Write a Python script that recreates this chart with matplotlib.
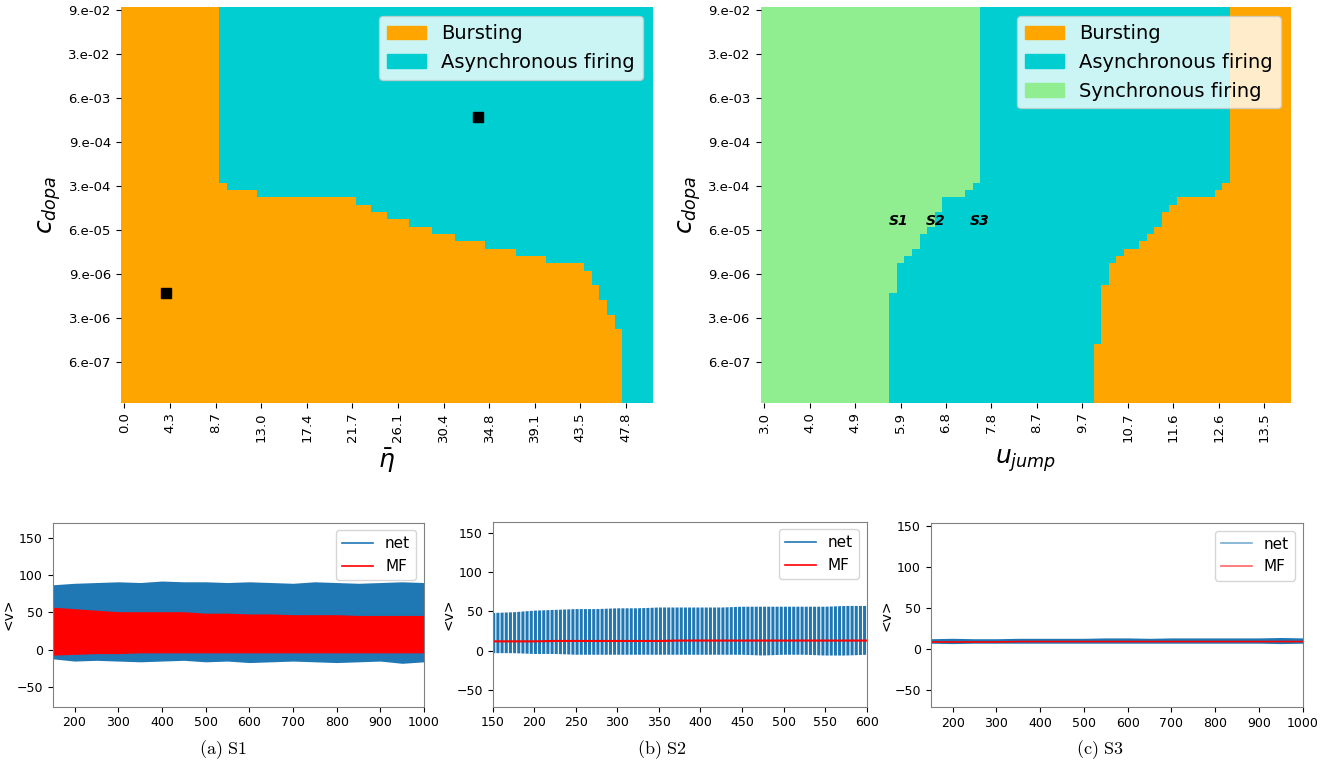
import numpy as np
import matplotlib
matplotlib.use("Agg")
import matplotlib.pyplot as plt
from matplotlib.colors import ListedColormap
from matplotlib.patches import Patch
from matplotlib.lines import Line2D

plt.rcParams["mathtext.fontset"] = "dejavusans"

# ---- phase diagrams: 54 rows of c_dopa (top = largest) x 70 columns ----
n_rows, n_cols = 54, 70
eta_labels = ["0.0", "4.3", "8.7", "13.0", "17.4", "21.7", "26.1", "30.4",
              "34.8", "39.1", "43.5", "47.8"]
ujump_labels = ["3.0", "4.0", "4.9", "5.9", "6.8", "7.8", "8.7", "9.7",
                "10.7", "11.6", "12.6", "13.5"]
cdopa_labels = ["9.e-02", "3.e-02", "6.e-03", "9.e-04", "3.e-04", "6.e-05",
                "9.e-06", "3.e-06", "6.e-07"]

# left map: number of bursting columns in each row (rest = asynchronous)
burst_cols_eta = ([13] * 24
                  + [14, 18, 31, 33, 35, 38, 41, 44, 48, 52, 56, 61,
                     62, 62, 63, 63, 64, 64, 65, 65]
                  + [66] * 10)
# black squares on the left map (column, row)
mark_cols = [6.0, 47.0]
mark_rows = [39.1, 15.1]

# right map: synchronous columns from the left, bursting starts at column
sync_cols_u = ([29] * 24
               + [28, 27, 24, 24, 23, 23, 22, 21, 21, 20, 19, 18, 18, 18, 18]
               + [17] * 15)
burst_start_u = ([62] * 24
                 + [61, 60, 55, 54, 53, 53, 52, 51, 50, 48, 47, 46, 46, 46]
                 + [45] * 8 + [44] * 8)
s_names = ["S1", "S2", "S3"]
s_cols = [18.2, 23.1, 29.0]
s_rows = [29.3, 29.3, 29.3]

# ---- time series (envelopes) ----
t_s1 = [150, 200, 250, 300, 350, 400, 450, 500, 550, 600, 650, 700, 750,
        800, 850, 900, 950, 1000]
net_up_s1 = [87, 89, 90, 91, 90, 92, 91, 91, 90, 91, 90, 89, 91, 90, 89, 90, 91, 90]
net_lo_s1 = [-12, -15, -14, -15, -16, -15, -14, -16, -15, -17, -16, -15, -16,
             -17, -16, -15, -18, -16]
mf_up_s1 = [57, 55, 53, 51, 51, 51, 51, 49, 49, 48, 48, 47, 47, 47, 46, 46, 46, 46]
mf_lo_s1 = [-7, -6, -5, -5, -4, -4, -4, -4, -4, -4, -4, -4, -4, -4, -4, -4, -4, -4]

t_s2 = [150, 175, 200, 225, 250, 275, 300, 325, 350, 375, 400, 425, 450,
        475, 500, 525, 550, 575, 600]
net_up_s2 = [48, 49, 51, 52, 53, 53, 54, 54, 55, 55, 55, 55, 56, 56, 56, 56, 56, 57, 57]
net_lo_s2 = [-3, -3, -4, -4, -5, -5, -5, -5, -5, -5, -5, -5, -5, -6, -5, -5, -6, -6, -5]
mf_s2 = [12, 12, 12, 12.5, 12.5, 12.5, 12.5, 12.5, 12.5, 13, 13, 13, 13, 13,
         13, 13, 13, 13, 13]

t_s3 = t_s1
net_up_s3 = [12.5, 13, 12.5, 12.5, 13, 13, 13, 13, 13.5, 13.5, 13, 13.5, 13.5,
             13.5, 13.5, 13.5, 14, 13.5]
net_lo_s3 = [7, 6.5, 7, 7, 7, 7, 7, 7, 7, 7, 7, 7, 7, 7, 7, 7, 6.5, 7]
mf_s3 = [8.5, 8.5, 8.5, 8.5, 9, 9, 9, 9, 9, 9, 9, 9, 9, 9, 9, 9, 9, 9]

c_burst, c_async, c_sync = "orange", "darkturquoise", "lightgreen"
cmap = ListedColormap([c_burst, c_async, c_sync])

fig = plt.figure(figsize=(13.35, 7.68), dpi=100)
W, H = 1335, 768


def px_axes(x0, x1, y0, y1):
    return fig.add_axes([x0 / W, 1 - y1 / H, (x1 - x0) / W, (y1 - y0) / H])


def heat_axes(ax, grid, xlabels, xlabel):
    ax.pcolormesh(np.arange(n_cols + 1), np.arange(n_rows + 1), grid,
                  cmap=cmap, vmin=-0.5, vmax=2.5)
    ax.set_xlim(0, n_cols)
    ax.set_ylim(n_rows, 0)
    ax.set_xticks(np.arange(0, n_cols, 6) + 0.5)
    ax.set_xticklabels(xlabels, rotation=90, fontsize=9.5)
    ax.set_yticks(np.arange(0, n_rows, 6) + 0.5)
    ax.set_yticklabels(cdopa_labels, fontsize=9.5)
    for s in ax.spines.values():
        s.set_visible(False)
    ax.set_ylabel(r"$c_{dopa}$", fontsize=18)
    ax.set_xlabel(xlabel, fontsize=18)


# left phase diagram
grid_l = np.ones((n_rows, n_cols))
for r, nb in enumerate(burst_cols_eta):
    grid_l[r, :nb] = 0
ax1 = px_axes(120.7, 652.5, 6.7, 402.5)
heat_axes(ax1, grid_l, eta_labels, r"$\bar{\eta}$")
ax1.plot(mark_cols, mark_rows, "s", color="black", markersize=7)
ax1.legend(handles=[Patch(color=c_burst, label="Bursting"),
                    Patch(color=c_async, label="Asynchronous firing")],
           loc="upper right", fontsize=14)

# right phase diagram
grid_r = np.ones((n_rows, n_cols))
for r in range(n_rows):
    grid_r[r, :sync_cols_u[r]] = 2
    grid_r[r, burst_start_u[r]:] = 0
ax2 = px_axes(760.5, 1290.5, 6.7, 402.5)
heat_axes(ax2, grid_r, ujump_labels, r"$u_{jump}$")
for name, c, r in zip(s_names, s_cols, s_rows):
    ax2.text(c, r, name, fontsize=10, fontweight="heavy", fontstyle="italic",
             ha="center", va="center")
ax2.legend(handles=[Patch(color=c_burst, label="Bursting"),
                    Patch(color=c_async, label="Asynchronous firing"),
                    Patch(color=c_sync, label="Synchronous firing")],
           loc="upper right", fontsize=14)

# bottom time series
blue, red = "#1f77b4", "red"


def ts_axes(ax, xlim, ylim, xticks, alpha=1.0):
    ax.set_xlim(*xlim)
    ax.set_ylim(*ylim)
    ax.set_xticks(xticks)
    ax.set_yticks([-50, 0, 50, 100, 150])
    ax.tick_params(labelsize=9)
    ax.set_ylabel("<v>", fontsize=10)
    ax.yaxis.set_label_coords(-0.10, 0.5)
    for s in ax.spines.values():
        s.set_color("0.5")
    ax.legend(handles=[Line2D([], [], color=blue, lw=1.2, alpha=alpha, label="net"),
                       Line2D([], [], color=red, lw=1.2, alpha=alpha, label="MF")],
              loc="upper right", fontsize=11)


ax3 = px_axes(52.7, 424, 522.7, 706.7)
ax3.fill_between(t_s1, net_lo_s1, net_up_s1, color=blue, lw=0)
ax3.fill_between(t_s1, mf_lo_s1, mf_up_s1, color=red, lw=0)
ts_axes(ax3, (150, 1000), (-76, 170), range(200, 1001, 100))

plt.rcParams["hatch.linewidth"] = 2.2
ax4 = px_axes(492.7, 866.7, 521.7, 706.7)
ax4.fill_between(t_s2, net_lo_s2, net_up_s2, facecolor="none", edgecolor=blue,
                 hatch="||||", lw=0)
ax4.plot(t_s2, mf_s2, color=red, lw=1.5)
ts_axes(ax4, (150, 600), (-71, 164), range(150, 601, 50))

ax5 = px_axes(930.7, 1302.7, 523, 707)
ax5.fill_between(t_s3, net_lo_s3, net_up_s3, color=blue, lw=0)
ax5.plot(t_s3, mf_s3, color=red, lw=1.2)
ts_axes(ax5, (150, 1000), (-71, 154), range(200, 1001, 100), alpha=0.6)

plt.rcParams["mathtext.fontset"] = "cm"
for x, cap in [(223, "(a)\\ S1"), (662, "(b)\\ S2"), (1100, "(c)\\ S3")]:
    fig.text(x / W, 1 - 750 / H, r"$\mathrm{" + cap + "}$", fontsize=13,
             ha="center", va="center")

fig.savefig("out.png", dpi=100)
